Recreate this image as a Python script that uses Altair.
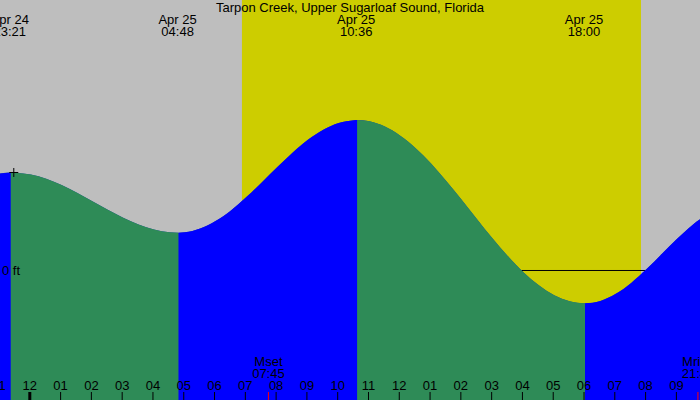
import altair as alt
import pandas as pd

# ---------------- data (hours relative to Apr 25 00:00, heights in ft) ----------------
tide_hours = [-1.0, -0.65, -0.5, 0.0, 0.5, 1.0, 1.5, 2.0, 2.5, 3.0, 3.5, 4.0, 4.5, 4.8,
              5.0, 5.5, 6.0, 6.5, 7.0, 7.5, 8.0, 8.5, 9.0, 9.5, 10.0, 10.5, 10.6,
              11.0, 11.5, 12.0, 12.5, 13.0, 13.5, 14.0, 14.5, 15.0, 15.5, 16.0, 16.5, 17.0, 17.5, 18.0,
              18.5, 19.0, 19.5, 20.0, 20.5, 21.0, 21.5, 22.0]
tide_ft = [0.643, 0.650, 0.649, 0.636, 0.608, 0.566, 0.515, 0.458, 0.401, 0.348, 0.303, 0.270, 0.252, 0.249,
           0.251, 0.276, 0.326, 0.397, 0.486, 0.584, 0.685, 0.782, 0.868, 0.935, 0.980, 0.999, 1.000,
           0.991, 0.956, 0.895, 0.812, 0.710, 0.592, 0.467, 0.337, 0.210, 0.091, -0.015, -0.102, -0.168, -0.208, -0.222,
           -0.206, -0.159, -0.086, 0.006, 0.108, 0.210, 0.302, 0.375]

ext_hours = [-0.65, 4.8, 10.6, 18.0]
ext_dates = ["Apr 24", "Apr 25", "Apr 25", "Apr 25"]
ext_times = ["23:21", "04:48", "10:36", "18:00"]

sunrise_hour = [6.89]
sunset_hour = [19.85]

moon_hours = [7.75, 21.70]
moon_names = ["Mset", "Mrise"]
moon_times = ["07:45", "21:42"]

hour_ticks = [-1, 0, 1, 2, 3, 4, 5, 6, 7, 8, 9, 10, 11, 12, 13, 14, 15, 16, 17, 18, 19, 20, 21, 22]
hour_labels = ["11", "12", "01", "02", "03", "04", "05", "06", "07", "08", "09", "10",
               "11", "12", "01", "02", "03", "04", "05", "06", "07", "08", "09", "10"]
hour_widths = [1, 3, 1, 1, 1, 1, 1, 1, 1, 1, 1, 1, 1, 1, 1, 1, 1, 1, 1, 1, 1, 1, 1, 1]

marker_hour = [-0.52]
marker_ft = [0.65]

title_text = "Tarpon Creek, Upper Sugarloaf Sound, Florida"
zero_label = "0 ft"

X_DOMAIN = [-0.968, 21.767]
Y_DOMAIN = [-0.8667, 1.8]

FONT = "Liberation Sans"
FS = 13

# ---------------- build tables ----------------
rows = []
bounds = [tide_hours[0]] + ext_hours + [tide_hours[-1]]
for i in range(len(bounds) - 1):
    a, b = bounds[i], bounds[i + 1]
    seg = [(h, v) for h, v in zip(tide_hours, tide_ft) if a <= h <= b]
    direction = "rise" if seg[-1][1] > seg[0][1] else "fall"
    for h, v in seg:
        rows.append(dict(h=h, ft=v, seg=i, dir=direction, base=Y_DOMAIN[0]))
tide_df = pd.DataFrame(rows)
full_df = pd.DataFrame({"h": tide_hours, "ft": tide_ft, "base": [Y_DOMAIN[0]] * len(tide_hours)})

xs = alt.Scale(domain=X_DOMAIN, nice=False, zero=False)
ys = alt.Scale(domain=Y_DOMAIN, nice=False, zero=False)

sun = alt.Chart(pd.DataFrame({"a": sunrise_hour, "b": sunset_hour})).mark_rect(
    color="#CDCD00").encode(
    x=alt.X("a:Q", scale=xs, axis=None), x2="b:Q",
    y=alt.value(0), y2=alt.value(400))

zero = alt.Chart(pd.DataFrame({"ft": [0.0]})).mark_rule(
    color="black", strokeWidth=1, yOffset=0.5).encode(
    y=alt.Y("ft:Q", scale=ys, axis=None), x=alt.value(0), x2=alt.value(700))

under = alt.Chart(full_df).mark_area(interpolate="monotone", clip=True, xOffset=1,
                                     color="#1F46A8").encode(
    x=alt.X("h:Q", scale=xs, axis=None),
    y=alt.Y("ft:Q", scale=ys, axis=None, stack=None),
    y2="base:Q")

area = alt.Chart(tide_df).mark_area(interpolate="monotone", clip=True, xOffset=1).encode(
    x=alt.X("h:Q", scale=xs, axis=None),
    y=alt.Y("ft:Q", scale=ys, axis=None, stack=None),
    y2="base:Q",
    color=alt.Color("dir:N", scale=alt.Scale(domain=["fall", "rise"],
                                             range=["#2E8B57", "#0000FF"]), legend=None),
    detail="seg:N")

zero_txt = alt.Chart(pd.DataFrame({"ft": [0.0], "t": [zero_label]})).mark_text(
    align="left", baseline="middle", font=FONT, fontSize=FS, color="black", dy=1).encode(
    x=alt.value(2), y=alt.Y("ft:Q", scale=ys, axis=None), text="t:N")

marker = alt.Chart(pd.DataFrame({"h": marker_hour, "ft": marker_ft})).mark_point(
    shape="M-1,0L1,0M0,-1L0,1", size=81, color="black", strokeWidth=1, filled=False, opacity=1).encode(
    x=alt.X("h:Q", scale=xs, axis=None), y=alt.Y("ft:Q", scale=ys, axis=None))

ext_df = pd.DataFrame({"h": ext_hours, "d": ext_dates, "t": ext_times})
ext_d = alt.Chart(ext_df).mark_text(align="center", baseline="alphabetic", font=FONT,
                                    fontSize=FS, color="black").encode(
    x=alt.X("h:Q", scale=xs, axis=None), y=alt.value(24), text="d:N")
ext_t = alt.Chart(ext_df).mark_text(align="center", baseline="alphabetic", font=FONT,
                                    fontSize=FS, color="black").encode(
    x=alt.X("h:Q", scale=xs, axis=None), y=alt.value(36), text="t:N")

title = alt.Chart(pd.DataFrame({"t": [title_text]})).mark_text(
    align="center", baseline="alphabetic", font=FONT, fontSize=FS, color="black").encode(
    x=alt.value(350), y=alt.value(12), text="t:N")

hours_df = pd.DataFrame({"h": hour_ticks, "lab": hour_labels, "w": hour_widths})
hticks = alt.Chart(hours_df).mark_rule(color="black").encode(
    x=alt.X("h:Q", scale=xs, axis=None), y=alt.value(392), y2=alt.value(400),
    strokeWidth=alt.StrokeWidth("w:Q", scale=None, legend=None))
hlabels = alt.Chart(hours_df).mark_text(align="center", baseline="alphabetic", font=FONT,
                                        fontSize=FS, color="black").encode(
    x=alt.X("h:Q", scale=xs, axis=None), y=alt.value(390), text="lab:N")

moon_df = pd.DataFrame({"h": moon_hours, "n": moon_names, "t": moon_times})
mticks = alt.Chart(moon_df).mark_rule(color="red", strokeWidth=1).encode(
    x=alt.X("h:Q", scale=xs, axis=None), y=alt.value(392), y2=alt.value(400))
mname = alt.Chart(moon_df).mark_text(align="center", baseline="alphabetic", font=FONT,
                                     fontSize=FS, color="black").encode(
    x=alt.X("h:Q", scale=xs, axis=None), y=alt.value(366), text="n:N")
mtime = alt.Chart(moon_df).mark_text(align="center", baseline="alphabetic", font=FONT,
                                     fontSize=FS, color="black").encode(
    x=alt.X("h:Q", scale=xs, axis=None), y=alt.value(378), text="t:N")

chart = alt.layer(sun, zero, under, area, zero_txt, marker, ext_d, ext_t, title,
                  hticks, hlabels, mticks, mname, mtime).properties(
    width=700, height=400, padding=0, autosize="none", background="#BEBEBE"
).configure_view(stroke=None)

chart.save("out.html", embed_options={"renderer": "svg", "actions": False})
